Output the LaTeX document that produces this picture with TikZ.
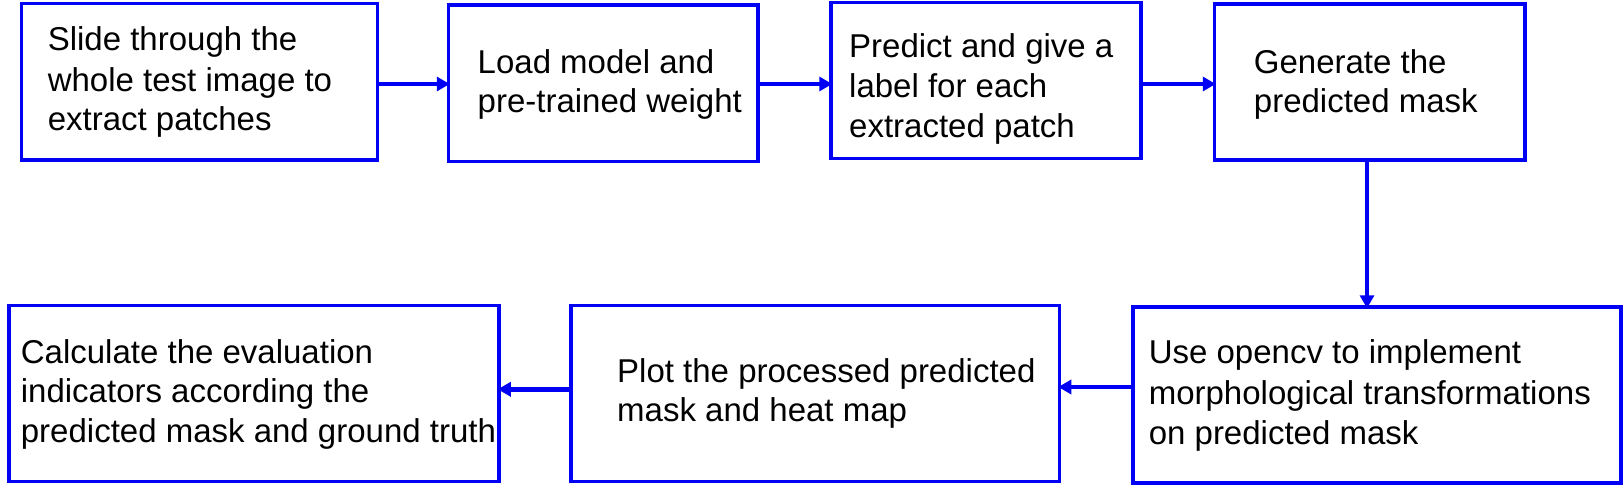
\documentclass[tikz,border=0pt]{standalone}
\usepackage{fontspec}
\setmainfont{Liberation Sans}
\usetikzlibrary{arrows.meta}
\definecolor{fblue}{RGB}{0,0,245}
\tikzset{
  box/.style={draw=fblue, line width=3.5pt, inner sep=0pt, rectangle},
  arr/.style={draw=fblue, line width=4.5pt, shorten >=-3pt, -{Triangle[length=13pt,width=14pt]}},
  ln/.style={anchor=base west, inner sep=0pt, font=\fontsize{33}{40}\selectfont, text=black}
}
\begin{document}
\begin{tikzpicture}[x=1pt,y=-1pt]
\useasboundingbox (0,0) rectangle (1624,486);
% boxes
\node[box, minimum width=356pt, minimum height=156.5pt] (b1) at (199.5,81.75) {};
\node[box, minimum width=309.5pt, minimum height=156.5pt] (b2) at (603.25,83.25) {};
\node[box, minimum width=310pt, minimum height=156pt] (b3) at (986,80.5) {};
\node[box, minimum width=310.5pt, minimum height=156pt] (b4) at (1369.75,82) {};
\node[box, minimum width=488pt, minimum height=176pt] (b5) at (1377,395) {};
\node[box, minimum width=488.5pt, minimum height=176pt] (b6) at (815.25,393.7) {};
\node[box, minimum width=490pt, minimum height=176pt] (b7) at (254,393.7) {};
% texts
\node[ln] (t1a) at (47.6,51) {Slide through the};
\node[ln] (t1b) at (47.6,91.2) {whole test image to};
\node[ln] (t1c) at (47.6,130.5) {extract patches};
\node[ln] (t2a) at (477.5,73.2) {Load model and};
\node[ln] (t2b) at (477.5,112.2) {pre-trained weight};
\node[ln] (t3a) at (849,57.2) {Predict and give a};
\node[ln] (t3b) at (849,97.8) {label for each};
\node[ln] (t3c) at (849,137.8) {extracted patch};
\node[ln] (t4a) at (1253.7,73.2) {Generate the};
\node[ln] (t4b) at (1253.7,112.2) {predicted mask};
\node[ln] (t5a) at (1148.6,363.5) {Use opencv to implement};
\node[ln] (t5b) at (1148.6,404.5) {morphological transformations};
\node[ln] (t5c) at (1148.6,444.5) {on predicted mask};
\node[ln] (t6a) at (617,382.2) {Plot the processed predicted};
\node[ln] (t6b) at (617,421) {mask and heat map};
\node[ln] (t7a) at (20.7,363.2) {Calculate the evaluation};
\node[ln] (t7b) at (20.7,402.2) {indicators according the};
\node[ln] (t7c) at (20.7,442.2) {predicted mask and ground truth};
% arrow levels
\coordinate (y1) at (0,84);
\coordinate (x4) at (1367,0);
\coordinate (y5) at (0,387);
\coordinate (y6) at (0,389.3);
% connectors
\draw[arr] (b1.east |- y1) -- (b2.west |- y1);
\draw[arr] (b2.east |- y1) -- (b3.west |- y1);
\draw[arr] (b3.east |- y1) -- (b4.west |- y1);
\draw[arr] (x4 |- b4.south) -- (x4 |- b5.north);
\draw[arr] (b5.west |- y5) -- (b6.east |- y5);
\draw[arr] (b6.west |- y6) -- (b7.east |- y6);
\end{tikzpicture}
\end{document}
